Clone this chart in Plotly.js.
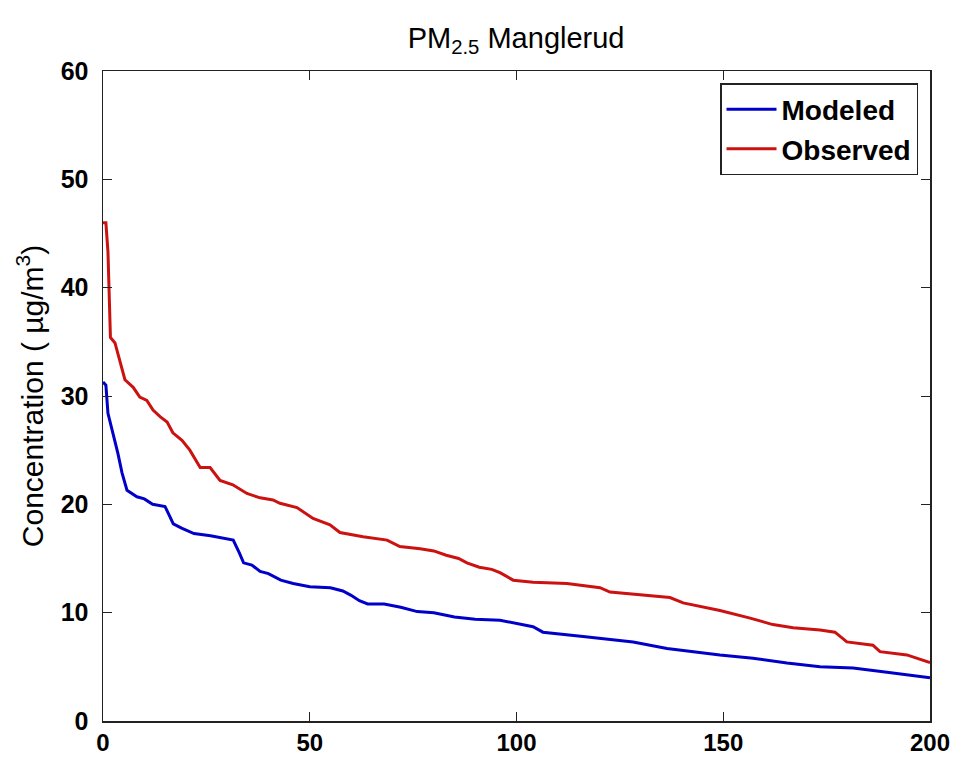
<!DOCTYPE html>
<html>
<head>
<meta charset="utf-8">
<script src="https://cdn.plot.ly/plotly-3.0.1.min.js"></script>
<style>html,body{margin:0;padding:0;background:#fff;}#chart{width:962px;height:757px;}</style>
</head>
<body>
<div id="chart"></div>
<script>
// Observed (red) – ranked concentrations
const obsX = [0, 0.7, 1.2, 1.7, 1.8, 2.9, 4.1, 5.3, 7.3, 8.9, 10.6, 12.1, 13.8, 15.5, 16.9, 19.1, 21.0, 23.5, 25.9, 28.3, 31.4, 34.8, 38.0, 41.1, 42.8, 46.9, 50.8, 54.9, 57.3, 62.9, 68.7, 71.8, 76.7, 80, 83, 86, 88, 91, 94, 96.0, 99.2, 104.0, 112.2, 120.2, 122.6, 132.3, 137.1, 140.3, 149.2, 156.5, 162.0, 166.9, 173.4, 177.0, 179.9, 186.2, 187.9, 194.4, 200];
const obsY = [46.0, 46.0, 43.3, 37.9, 35.4, 34.9, 33.3, 31.5, 30.8, 29.9, 29.6, 28.7, 28.1, 27.6, 26.6, 25.9, 25.0, 23.4, 23.4, 22.2, 21.8, 21.0, 20.6, 20.4, 20.1, 19.7, 18.7, 18.1, 17.4, 17.0, 16.7, 16.1, 15.9, 15.7, 15.3, 15.0, 14.6, 14.2, 14.0, 13.7, 13.0, 12.8, 12.7, 12.3, 11.9, 11.6, 11.4, 10.9, 10.2, 9.5, 8.9, 8.6, 8.4, 8.2, 7.3, 7.0, 6.4, 6.1, 5.4];
// Modeled (blue)
const modX = [0, 0.7, 1.2, 2.4, 3.6, 4.6, 5.8, 8.2, 10, 12, 15, 16, 17, 19, 22, 26, 30, 31.5, 33, 34, 36, 38, 40, 43, 46, 50, 55, 58, 60, 62, 64, 68, 72, 76, 80, 85, 90, 96.0, 104.0, 106.4, 116.1, 128.2, 136.4, 149.2, 157.2, 165.4, 173.4, 181.4, 189.6, 200];
const modY = [31.3, 31.0, 28.4, 26.6, 24.7, 22.9, 21.3, 20.7, 20.5, 20.0, 19.8, 19.0, 18.2, 17.8, 17.3, 17.1, 16.8, 16.7, 15.5, 14.6, 14.4, 13.8, 13.6, 13.0, 12.7, 12.4, 12.3, 12.0, 11.6, 11.1, 10.8, 10.8, 10.5, 10.1, 10.0, 9.6, 9.4, 9.3, 8.7, 8.2, 7.8, 7.3, 6.7, 6.1, 5.8, 5.35, 5.0, 4.9, 4.5, 4.0];

const xTicks = [0, 50, 100, 150, 200];
const yTicks = [0, 10, 20, 30, 40, 50, 60];

const traces = [
  {x: modX, y: modY, type: 'scatter', mode: 'lines', name: 'Modeled',
   line: {color: '#0000c8', width: 3}},
  {x: obsX, y: obsY, type: 'scatter', mode: 'lines', name: 'Observed',
   line: {color: '#cc1111', width: 3}}
];

const FONT = 'Liberation Sans, Arial, sans-serif';
const axisCommon = {
  showline: true, linecolor: '#222', linewidth: 1.5, mirror: 'ticks',
  ticks: 'inside', ticklen: 9, tickcolor: '#222', tickwidth: 1,
  showgrid: false, zeroline: false
};

const layout = {
  width: 962, height: 757,
  margin: {l: 103, r: 32, t: 71, b: 36},
  paper_bgcolor: '#fff', plot_bgcolor: '#fff',
  title: {text: 'PM<sub>2.5</sub> Manglerud', x: 0.5365, xanchor: 'center', y: 0.95, yanchor: 'middle',
          font: {family: FONT, size: 29, color: '#000'}},
  xaxis: Object.assign({}, axisCommon, {range: [0, 200], tickvals: xTicks, ticktext: xTicks.map(String), ticklabelstandoff: 0,
    tickfont: {family: FONT, size: 24, color: '#000', weight: 'bold'}}),
  yaxis: Object.assign({}, axisCommon, {range: [0, 60], tickvals: yTicks, ticktext: yTicks.map(String), ticklabelstandoff: 8,
    tickfont: {family: FONT, size: 25, color: '#000', weight: 'bold'},
    title: {text: 'Concentration ( \u00b5g/m<sup>3</sup>)', standoff: 8,
            font: {family: FONT, size: 30, color: '#000'}}}),
  showlegend: true,
  legend: {x: 0.9855, y: 0.9815, xanchor: 'right', yanchor: 'top',
           bgcolor: '#fff', bordercolor: '#222', borderwidth: 1.5, itemwidth: 50,
           font: {family: FONT, size: 28, color: '#000', weight: 'bold'}}
};

Plotly.newPlot('chart', traces, layout, {displayModeBar: false, staticPlot: true});
</script>
</body>
</html>
